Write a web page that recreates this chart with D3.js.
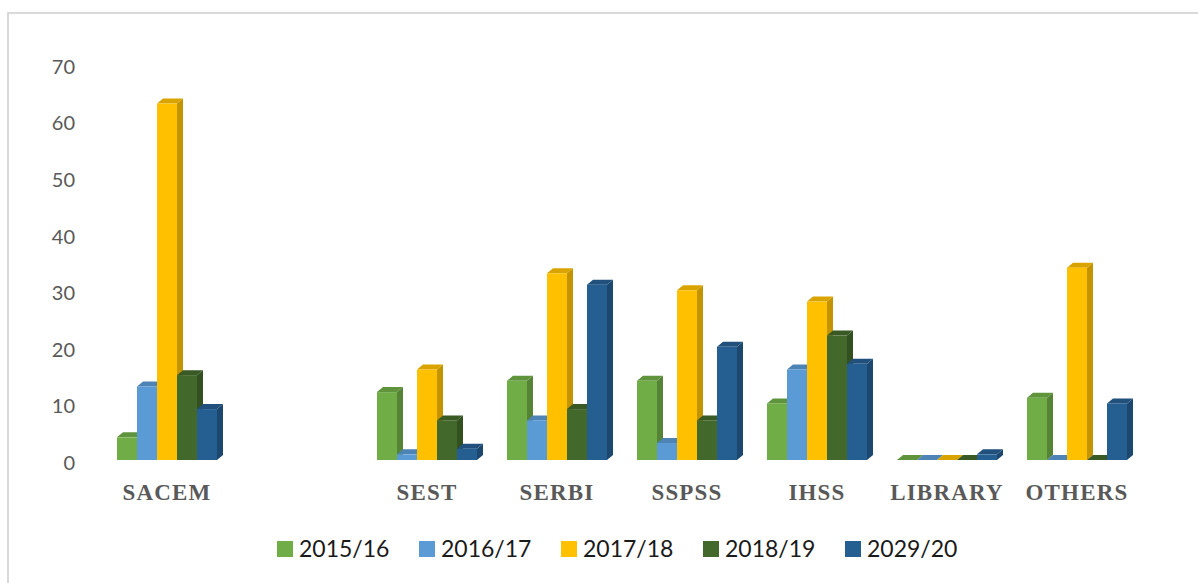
<!doctype html>
<html>
<head>
  <script src="https://d3js.org/d3.v7.min.js"></script>
  <style>
    body { margin:0; background:#fff; }
  </style>
</head>
<body>
  <script>
    // categories (the blank one is an empty slot in the original chart)
    var categories = ["SACEM", "", "SEST", "SERBI", "SSPSS", "IHSS", "LIBRARY", "OTHERS"];
    var seriesNames = ["2015/16", "2016/17", "2017/18", "2018/19", "2029/20"];
    var v2015 = [4, null, 12, 14, 14, 10, 0, 11];
    var v2016 = [13, null, 1, 7, 3, 16, 0, 0];
    var v2017 = [63, null, 16, 33, 30, 28, 0, 34];
    var v2018 = [15, null, 7, 9, 7, 22, 0, 0];
    var v2020 = [9, null, 2, 31, 20, 17, 1, 10];
    var yTicks = [0, 10, 20, 30, 40, 50, 60, 70];
    var colors = ["#70AD47", "#5B9BD5", "#FFC000", "#43682B", "#255E91"];

    var width = 1198, height = 583;
    var svg = d3.select("body").append("svg")
      .attr("width", width)
      .attr("height", height);

    // chart border (only top and left edges show)
    svg.append("path")
      .attr("d", "M8,583 L8,13 L1198,13")
      .attr("fill", "none")
      .attr("stroke", "#D9D9D9")
      .attr("stroke-width", 2);

    var allValues = [v2015, v2016, v2017, v2018, v2020];

    var x0 = d3.scaleBand().domain(categories).range([102, 1142]);
    var x1 = d3.scaleBand().domain(seriesNames).range([15, 115]);
    var yScale = d3.scaleLinear().domain([0, 70]).range([460, 64]);
    var dx = 6, dy = 5;

    // y axis labels only
    var leftAxis = d3.axisLeft(yScale).tickValues(yTicks).tickSize(0).tickPadding(0);
    var gy = svg.append("g")
      .attr("transform", "translate(75,3)")
      .call(leftAxis);
    gy.select(".domain").remove();
    gy.selectAll("text")
      .attr("font-family", "Lato, sans-serif")
      .attr("font-size", 20)
      .attr("fill", "#595959");

    // flatten into bar records, drawn left to right
    var bars = [];
    categories.forEach(function(c, i){
      seriesNames.forEach(function(s, j){
        var v = allValues[j][i];
        if (v === null) return;
        bars.push({cat: c, series: s, value: v, color: colors[j]});
      });
    });

    var bw = x1.bandwidth();
    var g = svg.selectAll(".bar")
      .data(bars)
      .enter()
      .append("g")
      .attr("class", "bar");

    // side face
    g.append("path")
      .attr("d", function(d){
        var x = x0(d.cat) + x1(d.series) + bw, y = yScale(d.value), b = yScale(0);
        return "M" + x + "," + b + " L" + (x + dx) + "," + (b - dy) +
          " L" + (x + dx) + "," + (y - dy) + " L" + x + "," + y + "Z";
      })
      .attr("fill", function(d){ return d3.color(d.color).darker(0.75); });

    // top face
    g.append("path")
      .attr("d", function(d){
        var x = x0(d.cat) + x1(d.series), y = yScale(d.value);
        return "M" + x + "," + y + " L" + (x + dx) + "," + (y - dy) +
          " L" + (x + bw + dx) + "," + (y - dy) + " L" + (x + bw) + "," + y + "Z";
      })
      .attr("fill", function(d){ return d3.color(d.color).darker(0.45); });

    // front face
    g.append("rect")
      .attr("x", function(d){ return x0(d.cat) + x1(d.series); })
      .attr("y", function(d){ return yScale(d.value); })
      .attr("width", bw)
      .attr("height", function(d){ return yScale(0) - yScale(d.value); })
      .attr("fill", function(d){ return d.color; });

    // category labels
    svg.selectAll(".cat")
      .data(categories)
      .enter()
      .append("text")
      .attr("class", "cat")
      .attr("x", function(d){ return x0(d) + x0.bandwidth() / 2; })
      .attr("y", 500)
      .attr("text-anchor", "middle")
      .attr("font-family", "'Liberation Serif', 'Times New Roman', serif")
      .attr("font-weight", "bold")
      .attr("font-size", 23)
      .attr("letter-spacing", 1.2)
      .attr("fill", "#595959")
      .text(function(d){ return d; });

    // legend
    var legend = svg.selectAll(".legend")
      .data(seriesNames)
      .enter()
      .append("g")
      .attr("class", "legend")
      .attr("transform", function(d, i){ return "translate(" + (277 + i * 142) + ",541)"; });
    legend.append("rect")
      .attr("width", 16)
      .attr("height", 16)
      .attr("fill", function(d, i){ return colors[i]; });
    legend.append("text")
      .attr("x", 22)
      .attr("y", 16)
      .attr("font-family", "Lato, sans-serif")
      .attr("font-size", 23)
      .attr("fill", "#1a1a1a")
      .text(function(d){ return d; });
  </script>
</body>
</html>
